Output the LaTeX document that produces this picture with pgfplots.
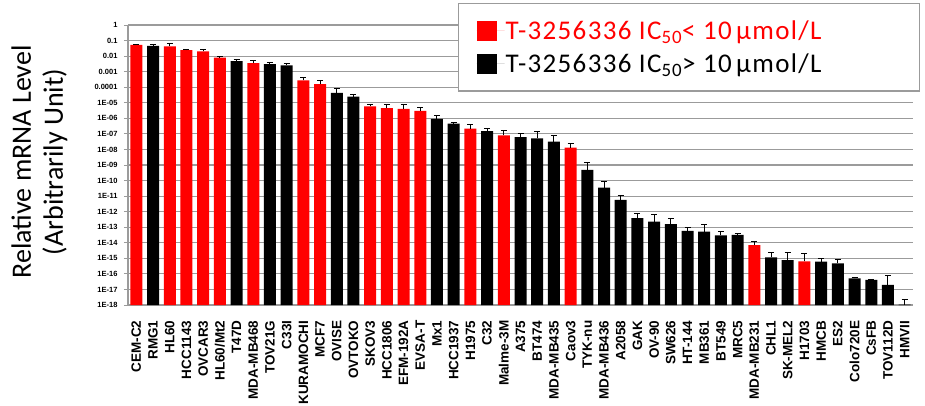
\documentclass[border=0pt]{standalone}
\usepackage{fontspec}
\setmainfont{Carlito}
\newfontfamily\labfont{Liberation Sans}
\usepackage{pgfplots}
\pgfplotsset{compat=1.18}
\usepackage{pgfplotstable}

\definecolor{gridgray}{RGB}{155,155,155}
\definecolor{barred}{RGB}{255,0,0}

% cell lines with IC50 < 10 umol/L: position, level, relative error
\pgfplotstableread{
idx val rel
0  5.2e-2  0.15
2  4.2e-2  0.48
3  2.4e-2  0.15
4  2.0e-2  0.26
5  8.1e-3  0.15
7  3.5e-3  0.41
10 2.8e-4  0.55
11 1.6e-4  0.62
14 5.8e-6  0.35
15 4.5e-6  0.70
16 4.1e-6  0.91
17 3.0e-6  0.55
20 2.2e-7  0.82
22 8.1e-8  1.09
26 1.3e-8  0.91
37 7.2e-15 0.62
40 6.5e-16 1.95
}\sensitive

% cell lines with IC50 > 10 umol/L
\pgfplotstableread{
idx val rel
1  4.6e-2  0.15
6  4.8e-3  0.26
8  3.1e-3  0.26
9  2.5e-3  0.41
12 4.3e-5  0.91
13 2.5e-5  0.35
18 9.3e-7  0.62
19 4.5e-7  0.26
21 1.5e-7  0.48
23 6.3e-8  0.62
24 5.2e-8  1.95
25 3.2e-8  1.29
27 4.8e-10 2.09
28 3.5e-11 1.40
29 5.7e-12 0.82
30 3.8e-13 1.09
31 2.3e-13 1.69
32 1.6e-13 1.40
33 5.8e-14 0.62
34 5.3e-14 1.82
35 3.0e-14 0.82
36 3.2e-14 0.26
38 1.15e-15 1.09
39 7.8e-16 2.09
41 6.2e-16 0.62
42 4.8e-16 0.82
43 5.2e-17 0.15
44 4.1e-17 0.10
45 1.95e-17 2.80
46 1.05e-18 1.00
}\resistant

\begin{document}
\begin{tikzpicture}
\path[use as bounding box] (0pt,0pt) rectangle (925pt,405pt);
\begin{axis}[
  at={(128pt,100pt)}, anchor=south west,
  scale only axis, width=785pt, height=280pt,
  ymode=log, log origin=infty, ymin=1e-18, ymax=1,
  xmin=-0.5, xmax=46.5,
  ybar, bar width=12pt,
  axis x line*=bottom, axis y line*=left,
  axis line style={gridgray, line width=1.2pt, -},
  ymajorgrids, grid style={gridgray, line width=1.2pt},
  tick align=outside, major tick length=4pt,
  ytick style={gridgray, line width=1pt},
  xtick style={draw=none},
  ytick={1e-18,1e-17,1e-16,1e-15,1e-14,1e-13,1e-12,1e-11,1e-10,1e-9,1e-8,1e-7,1e-6,1e-5,1e-4,1e-3,1e-2,1e-1,1},
  yticklabels={1E-18,1E-17,1E-16,1E-15,1E-14,1E-13,1E-12,1E-11,1E-10,1E-09,1E-08,1E-07,1E-06,1E-05,0.0001,0.001,0.01,0.1,1},
  yticklabel style={font=\labfont\bfseries\fontsize{7.5}{8}\selectfont, xshift=-3pt},
  yminorticks=false,
  xtick={0,...,46},
  xticklabels={CEM-C2,RMG1,HL60,HCC1143,OVCAR3,HL60/Mt2,T47D,MDA-MB468,TOV21G,C33I,KURAMOCHI,MCF7,OVISE,OVTOKO,SKOV3,HCC1806,EFM-192A,EVSA-T,Mx1,HCC1937,H1975,C32,Malme-3M,A375,BT474,MDA-MB435,Caov3,TYK-nu,MDA-MB436,A2058,GAK,OV-90,SW626,HT-144,MB361,BT549,MRC5,MDA-MB231,CHL1,SK-MEL2,H1703,HMCB,ES2,Colo720E,CsFB,TOV112D,HMVII},
  xticklabel style={rotate=90, anchor=east, font=\labfont\bfseries\fontsize{13.5}{14}\selectfont},
  xticklabel shift=8pt,
  ylabel={Relative mRNA Level\\(Arbitrarily Unit)},
  ylabel style={align=center, font=\fontsize{28}{32}\selectfont,
    at={(axis description cs:-0.0726,0.511)}, anchor=south},
  legend style={at={(0.4204,1.0786)}, anchor=north west,
    draw=gridgray, line width=1.2pt, fill=white,
    inner xsep=18pt, inner ysep=16pt, row sep=11pt,
    nodes={inner sep=1pt, anchor=west},
    font=\fontsize{27}{30}\selectfont\addfontfeatures{LetterSpace=5}},
  legend cell align=left,
  error bars/y dir=plus, error bars/y explicit relative,
  error bars/error bar style={black, line width=1pt},
  error bars/error mark options={rotate=90, black, mark size=3pt, line width=1pt},
]
\addplot[fill=barred, draw=none, bar shift=0pt,
  legend image code/.code={\fill[barred] (0pt,-10pt) rectangle (20pt,10pt);
    \path (0pt,0pt) -- (28pt,0pt);}]
  table[x=idx, y=val, y error=rel] {\sensitive};
\addlegendentry{\makebox[395pt][l]{\textcolor{barred}{T-3256336 IC\textsubscript{50}< 10\,µmol/L}}}
\addplot[fill=black, draw=none, bar shift=0pt,
  legend image code/.code={\fill[black] (0pt,-10pt) rectangle (20pt,10pt);
    \path (0pt,0pt) -- (28pt,0pt);}]
  table[x=idx, y=val, y error=rel] {\resistant};
\addlegendentry{T-3256336 IC\textsubscript{50}> 10\,µmol/L}
\end{axis}
\end{tikzpicture}
\end{document}
